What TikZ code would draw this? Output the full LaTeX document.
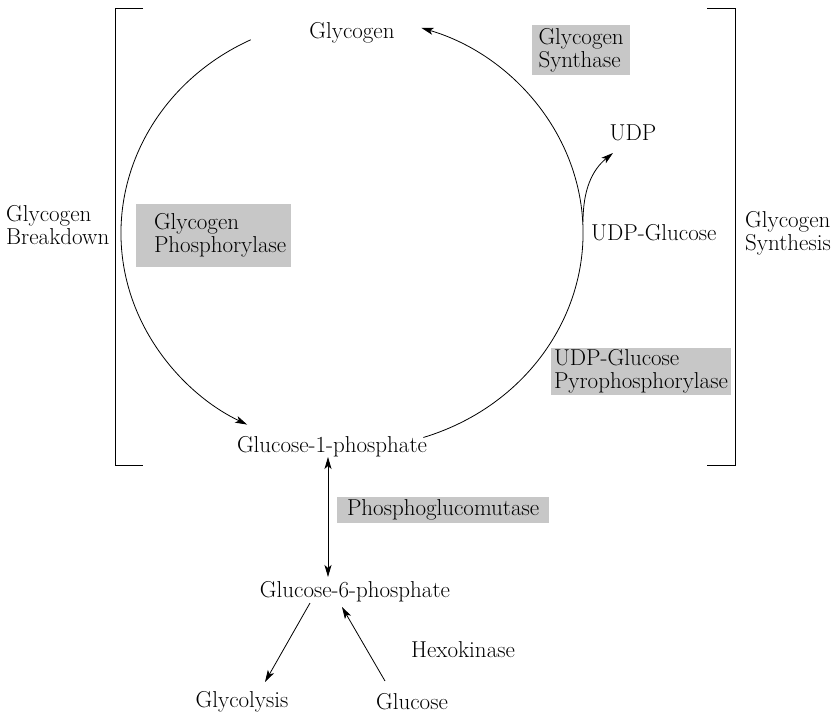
\documentclass[tikz,border=0pt]{standalone}
\usetikzlibrary{arrows.meta}
\begin{document}
\begin{tikzpicture}[x=1pt,y=1pt,
  every node/.style={font=\fontsize{23}{23}\selectfont, inner sep=0pt},
  label/.style={align=left},
  enzyme/.style={fill=black!22, align=left, inner ysep=1pt},
  conn/.style={line width=0.8pt, -{Stealth[length=12pt,width=7pt,inset=3pt]}},
  twoway/.style={line width=0.8pt, {Stealth[length=12pt,width=7pt,inset=3pt]}-{Stealth[length=12pt,width=7pt,inset=3pt]}},
  bracket/.style={line width=0.8pt}]
\useasboundingbox (0,0) rectangle (831,-715);

% metabolites
\node (glycogen) at (352,-33) {Glycogen};
\node (udp) at (633,-133) {UDP};
\node[anchor=west] (udpglc) at (591,-233) {UDP-Glucose};
\node (g1p) at (332,-447) {Glucose-1-phosphate};
\node (g6p) at (355,-592) {Glucose-6-phosphate};
\node (glycolysis) at (242,-702) {Glycolysis};
\node (glucose) at (412,-702) {Glucose};
\node (hexo) at (463,-650) {Hexokinase};

% side labels
\node[label, anchor=west] (breakdown) at (6,-225) {Glycogen\\Breakdown};
\node[label, anchor=west] (synthesis) at (745,-233) {Glycogen\\Synthesis};

% enzymes
\node[enzyme, text width=85pt, inner xsep=6.5pt, minimum height=50pt] (synthase) at (581,-50) {\mbox{Glycogen}\\\mbox{Synthase}};
\node[enzyme, text width=137pt, inner xsep=9pt, minimum height=63pt] (phosphorylase) at (213.5,-235.5) {\hspace*{9pt}\mbox{Glycogen}\\\hspace*{9pt}\mbox{Phosphorylase}};
\node[enzyme, text width=174pt, inner xsep=3pt, minimum height=47pt] (pyro) at (641,-371.5) {\mbox{UDP-Glucose}\\\mbox{Pyrophosphorylase}};
\node[enzyme, text width=192pt, inner xsep=10pt, minimum height=26pt] (pgm) at (443,-510) {\mbox{Phosphoglucomutase}};

% brackets
\draw[bracket] (143,-8) -- (115,-8) -- (115,-465) -- (143,-465);
\draw[bracket] (707,-8) -- (735,-8) -- (735,-465) -- (707,-465);

% cycle
\coordinate (cyc) at (352,-233);
\draw[conn] ([shift={(116:231 and 215)}]cyc) arc[start angle=116, end angle=243, x radius=231, y radius=215];
\draw[conn] ([shift={(-72:231 and 215)}]cyc) arc[start angle=-72, end angle=72.5, x radius=231, y radius=215];

% UDP release
\coordinate (udpfork) at (583,-222);
\coordinate (udptip) at (613,-153);
\draw[conn] (udpfork) .. controls (583,-190) and (592,-170) .. (udptip);

% phosphoglucomutase step
\coordinate (pgmtop) at (328,-457);
\coordinate (pgmbot) at (328,-577);
\draw[twoway] (pgmtop) -- (pgmbot);

% glycolysis and hexokinase
\coordinate (g6pout) at (310,-603);
\coordinate (glyin) at (265,-682);
\coordinate (glcout) at (385,-681);
\coordinate (g6pin) at (342,-607);
\draw[conn] (g6pout) -- (glyin);
\draw[conn] (glcout) -- (g6pin);
\end{tikzpicture}
\end{document}
